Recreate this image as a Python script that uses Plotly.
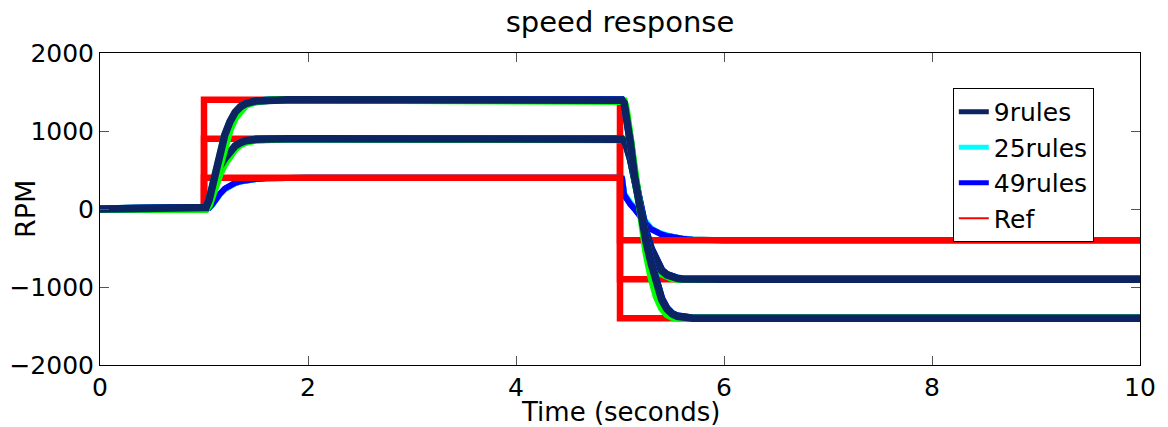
import plotly.graph_objects as go

# Common time grid (seconds) for the simulated speed responses
t = [0.0, 1.0, 1.02, 1.05, 1.08, 1.1, 1.15, 1.2, 1.25, 1.3, 1.35, 1.4, 1.5, 1.6, 1.7, 1.8, 2.0,
     5.0, 5.02, 5.04, 5.06, 5.1, 5.14, 5.2, 5.25, 5.3, 5.35, 5.4, 5.45, 5.5, 5.55, 5.6, 5.7, 5.8, 6.0, 10.0]

# Reference speed profiles (step at 1 s, reversal at 5 s)
ref_t = [0, 1, 1, 5, 5, 10]
ref_400 = [0, 0, 400, 400, -400, -400]
ref_900 = [0, 0, 900, 900, -900, -900]
ref_1400 = [0, 0, 1400, 1400, -1400, -1400]

# 9-rule fuzzy controller
r9_400 = [0, 0, 0, 14, 58, 98, 188, 258, 303, 333, 353, 367, 384, 394, 398, 400, 400,
          400, 395, 190, 135, 65, 5, -105, -185, -255, -298, -322, -342, -358, -370, -380, -392, -398, -400, -400]
r9_900 = [0, 0, 20, 120, 270, 370, 540, 650, 740, 810, 850, 875, 893, 900, 900, 900, 900,
          900, 895, 870, 820, 640, 380, -50, -300, -520, -680, -790, -845, -875, -890, -897, -900, -900, -900, -900]
r9_1400 = [0, 0, 20, 120, 280, 400, 700, 950, 1120, 1240, 1310, 1350, 1385, 1398, 1400, 1400, 1400,
           1400, 1395, 1360, 1220, 850, 420, -100, -420, -700, -980, -1160, -1280, -1345, -1375, -1390, -1400, -1400, -1400, -1400]

# 25-rule fuzzy controller
r25_400 = [0, 0, 0, 12, 55, 95, 182, 252, 298, 330, 351, 365, 383, 393, 398, 400, 400,
           400, 392, 200, 150, 80, 20, -90, -170, -245, -292, -318, -340, -356, -368, -378, -390, -397, -400, -400]
r25_900 = [0, 0, 18, 115, 262, 362, 532, 644, 734, 806, 847, 873, 892, 899, 900, 900, 900,
           900, 896, 872, 824, 648, 390, -40, -292, -512, -674, -786, -843, -874, -889, -896, -900, -900, -900, -900]
r25_1400 = [0, 0, 18, 115, 272, 392, 690, 940, 1112, 1234, 1306, 1347, 1384, 1397, 1400, 1400, 1400,
            1400, 1396, 1362, 1226, 860, 432, -90, -410, -692, -972, -1154, -1276, -1343, -1374, -1389, -1400, -1400, -1400, -1400]

# 49-rule fuzzy controller
r49_400 = [0, 0, 0, 15, 60, 100, 190, 260, 305, 335, 355, 368, 385, 394, 398, 400, 400,
           400, 390, 180, 130, 60, 0, -110, -190, -260, -300, -325, -345, -360, -372, -382, -393, -398, -400, -400]
r49_900 = [0, 0, 16, 110, 255, 355, 525, 638, 730, 802, 844, 871, 891, 899, 900, 900, 900,
           900, 897, 875, 828, 655, 398, -30, -285, -505, -668, -782, -840, -872, -888, -896, -900, -900, -900, -900]
r49_1400 = [0, 0, 16, 110, 265, 385, 680, 930, 1105, 1230, 1302, 1344, 1383, 1397, 1400, 1400, 1400,
            1400, 1397, 1365, 1232, 870, 445, -80, -400, -685, -965, -1148, -1272, -1340, -1372, -1388, -1400, -1400, -1400, -1400]

# Additional run (green) at the two larger set-points
rg_900 = [0, 0, 0, 50, 170, 260, 440, 580, 690, 770, 825, 855, 885, 897, 900, 900, 900,
          900, 900, 890, 840, 660, 390, -80, -370, -600, -750, -830, -870, -890, -897, -900, -900, -900, -900, -900]
rg_1400 = [0, 0, 0, 60, 200, 300, 560, 820, 1020, 1170, 1270, 1330, 1380, 1396, 1400, 1400, 1400,
           1400, 1400, 1380, 1280, 900, 450, -150, -550, -880, -1120, -1270, -1350, -1385, -1397, -1400, -1400, -1400, -1400, -1400]

NAVY = "#0c2461"
CYAN = "#00ffff"
BLUE = "#0000ff"
RED = "#ff0000"
GREEN = "#00ff00"
W = 7.5       # response line width
W_LOW = 6     # 400 rpm responses, kept under the reference line
W_REF = 6.5

fig = go.Figure()


def line(x, y, color, width, name="", legend=False):
    fig.add_trace(go.Scatter(x=x, y=y, mode="lines", name=name, showlegend=legend,
                             line=dict(color=color, width=width), hoverinfo="skip"))


# references for the larger set-points sit underneath the responses
line(ref_t, ref_1400, RED, W_REF)
line(ref_t, ref_900, RED, W_REF)

# 400 rpm run, overdrawn by its reference
line(t, r9_400, NAVY, W_LOW)
line(t, r25_400, CYAN, W_LOW)
line(t, r49_400, BLUE, W_LOW)
line(ref_t, ref_400, RED, W_REF)

# 900 and 1400 rpm runs
for y25, y49, yg, y9 in [(r25_900, r49_900, rg_900, r9_900), (r25_1400, r49_1400, rg_1400, r9_1400)]:
    line(t, y25, CYAN, W)
    line(t, y49, BLUE, W)
    line(t, yg, GREEN, W)
    line(t, y9, NAVY, W)

# legend entries
for name, color, width in [("9rules", NAVY, 5), ("25rules", CYAN, 5), ("49rules", BLUE, 5), ("Ref", RED, 2)]:
    line([None], [None], color, width, name=name, legend=True)

FONT = "DejaVu Sans"
axis_common = dict(showline=True, linecolor="black", linewidth=1, mirror="ticks", ticks="inside",
                   ticklen=9, tickcolor="#555555", showgrid=False, zeroline=False, automargin=False,
                   tickfont=dict(family=FONT, size=25, color="black"))

fig.update_layout(
    width=1168, height=427,
    margin=dict(l=100, r=28, t=53, b=62),
    paper_bgcolor="white", plot_bgcolor="white",
    title=dict(text="speed response", x=0.5, xref="paper", xanchor="center",
               y=1 - 22 / 427, yref="container", yanchor="middle",
               font=dict(family=FONT, size=29, color="black")),
    xaxis=dict(range=[0, 10], tickvals=[0, 2, 4, 6, 8, 10], **axis_common),
    yaxis=dict(range=[-2000, 2000], tickvals=[-2000, -1000, 0, 1000, 2000], **axis_common),
    legend=dict(x=0.82, y=0.888, xanchor="left", yanchor="top", bgcolor="white",
                bordercolor="black", borderwidth=1, font=dict(family=FONT, size=25, color="black"),
                tracegroupgap=0, itemwidth=30),
    annotations=[
        dict(text="Time (seconds)", x=0.5, y=(365 - 412) / 312, xref="paper", yref="paper",
             showarrow=False, xanchor="center", yanchor="middle",
             font=dict(family=FONT, size=26, color="black")),
        dict(text="RPM", x=(25 - 100) / 1040, y=0.5, xref="paper", yref="paper", textangle=-90,
             showarrow=False, xanchor="center", yanchor="middle",
             font=dict(family=FONT, size=27, color="black")),
    ],
)

fig.write_html("out.html")
